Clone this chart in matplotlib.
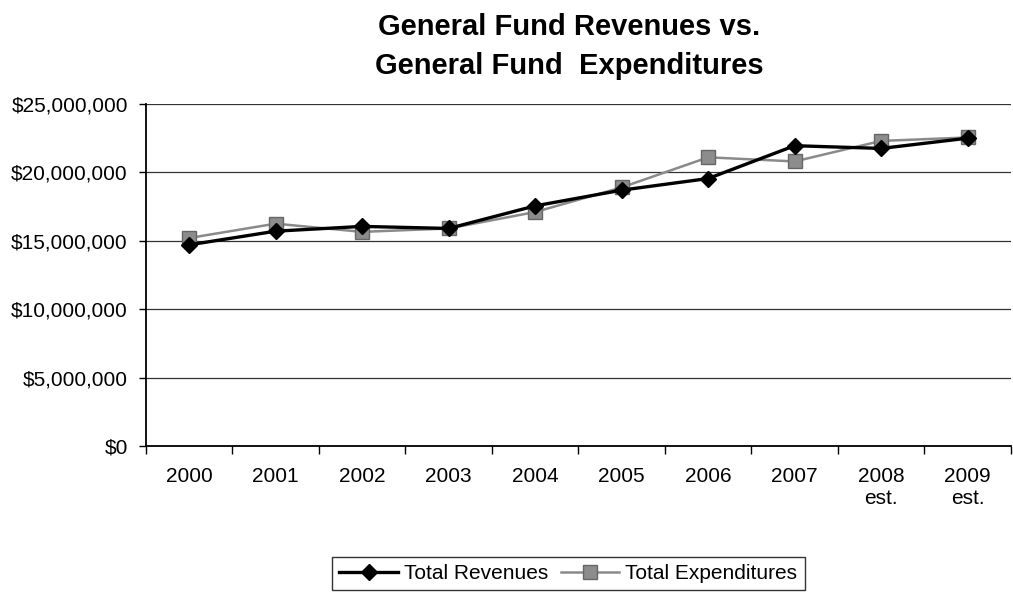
import matplotlib.pyplot as plt
from matplotlib.ticker import FuncFormatter, FixedLocator

plt.rcParams['font.family'] = ['Liberation Sans', 'DejaVu Sans']

# Fiscal years and general fund totals (dollars)
years = ["2000", "2001", "2002", "2003", "2004", "2005", "2006", "2007", "2008\nest.", "2009\nest."]
revenues = [14.7e6, 15.7e6, 16.05e6, 15.9e6, 17.55e6, 18.7e6, 19.55e6, 21.95e6, 21.75e6, 22.5e6]
expenditures = [15.2e6, 16.25e6, 15.65e6, 15.9e6, 17.1e6, 18.9e6, 21.1e6, 20.8e6, 22.3e6, 22.55e6]

fig = plt.figure(figsize=(10.13, 6.01), dpi=100)
ax = fig.add_axes([0.144, 0.258, 0.854, 0.569])

x = range(len(years))
ax.plot(x, revenues, color="black", lw=2.4, marker="D", ms=8.5,
        mfc="black", mec="black", label="Total Revenues", zorder=4)
ax.plot(x, expenditures, color="#8a8a8a", lw=1.8, marker="s", ms=9.5,
        mfc="#8c8c8c", mec="#666666", mew=1, label="Total Expenditures", zorder=3)

ax.set_xlim(-0.5, len(years) - 0.5)
ax.set_ylim(0, 25e6)
ax.set_yticks([0, 5e6, 10e6, 15e6, 20e6, 25e6])
ax.yaxis.set_major_formatter(FuncFormatter(lambda v, p: f"${v:,.0f}"))
ax.grid(axis="y", color="#333333", lw=0.9)
ax.set_axisbelow(True)

ax.set_xticks(list(x))
ax.set_xticklabels(years, multialignment="center")
ax.xaxis.set_minor_locator(FixedLocator([i - 0.5 for i in range(len(years) + 1)]))
ax.tick_params(axis="x", which="major", length=0, pad=15, labelsize=15)
ax.tick_params(axis="x", which="minor", length=6, width=1, direction="out")
ax.tick_params(axis="y", length=5, width=1, direction="out", labelsize=15, pad=8)

for side in ["top", "right"]:
    ax.spines[side].set_visible(False)
ax.spines["left"].set_linewidth(1.3)
ax.spines["bottom"].set_linewidth(1.3)

fig.text(0.562, 0.922, "General Fund Revenues vs.\nGeneral Fund  Expenditures",
         ha="center", va="center", fontsize=21, fontweight="bold", linespacing=1.5)

leg = fig.legend(loc="center", bbox_to_anchor=(0.561, 0.046), ncol=2, fontsize=15,
                 frameon=True, fancybox=False, edgecolor="black", handlelength=2.8,
                 columnspacing=0.6, handletextpad=0.3, borderpad=0.35, borderaxespad=0)
leg.get_frame().set_linewidth(1.0)

fig.savefig("out.png", dpi=100)
